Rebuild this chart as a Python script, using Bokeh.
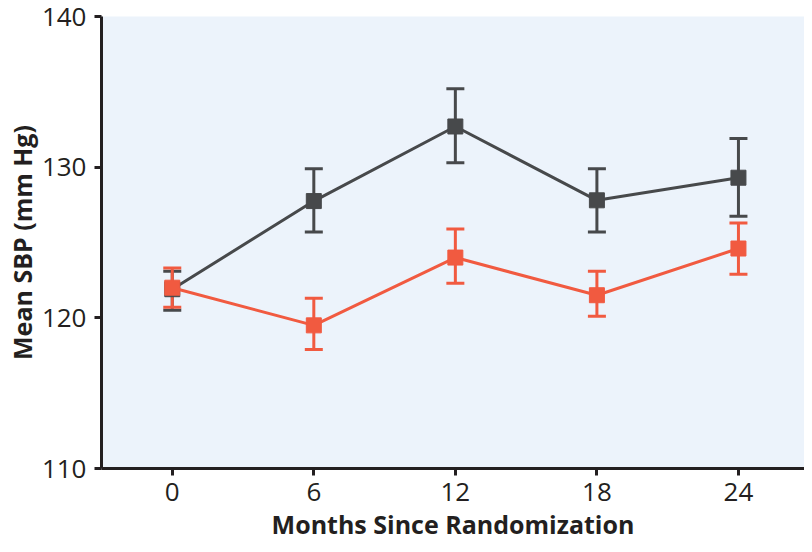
from bokeh.plotting import figure
from bokeh.models import ColumnDataSource, Whisker, TeeHead, FixedTicker, Range1d
from bokeh.embed import file_html
from bokeh.resources import INLINE

months = [0, 6, 12, 18, 24]
dark_mean = [121.9, 127.75, 132.7, 127.8, 129.3]
dark_upper = [123.1, 129.9, 135.2, 129.9, 131.9]
dark_lower = [120.5, 125.7, 130.3, 125.7, 126.75]
red_mean = [122.0, 119.5, 124.0, 121.5, 124.6]
red_upper = [123.3, 121.3, 125.9, 123.1, 126.3]
red_lower = [120.7, 117.9, 122.3, 120.1, 122.9]
y_ticks = [110, 120, 130, 140]
x_title = "Months Since Randomization"
y_title = "Mean SBP (mm Hg)"

DARK = "#47494b"
RED = "#f15a40"
TXT = "#231f20"

p = figure(width=804, height=544, output_backend="svg", toolbar_location=None,
           x_range=Range1d(-3, 26.8), y_range=Range1d(110, 140),
           min_border_left=101, min_border_right=0, min_border_top=16, min_border_bottom=76)
p.background_fill_color = "#ecf3fb"
p.border_fill_color = "white"
p.outline_line_color = None
p.grid.visible = False

for mean, up, lo, col in [(dark_mean, dark_upper, dark_lower, DARK), (red_mean, red_upper, red_lower, RED)]:
    src = ColumnDataSource(dict(x=months, y=mean, up=up, lo=lo))
    w = Whisker(source=src, base="x", upper="up", lower="lo", line_color=col, line_width=3,
                upper_head=TeeHead(size=18, line_color=col, line_width=3),
                lower_head=TeeHead(size=18, line_color=col, line_width=3))
    p.add_layout(w)
    p.line("x", "y", source=src, line_color=col, line_width=3)
    p.scatter("x", "y", source=src, marker="square", size=15, fill_color=col, line_color=col)

for ax in (p.xaxis, p.yaxis):
    ax.axis_line_color = TXT
    ax.axis_line_width = 3
    ax.major_tick_line_color = TXT
    ax.major_tick_line_width = 3
    ax.major_tick_out = 7
    ax.major_tick_in = 0
    ax.minor_tick_line_color = None
    ax.major_label_text_font = "Open Sans"
    ax.major_label_text_font_size = "26px"
    ax.major_label_text_color = TXT
    ax.axis_label_text_font = "Open Sans"
    ax.axis_label_text_font_style = "bold"
    ax.axis_label_text_font_size = "25px"
    ax.axis_label_text_color = TXT

p.xaxis.ticker = FixedTicker(ticks=months)
p.yaxis.ticker = FixedTicker(ticks=y_ticks)
p.xaxis.axis_label = x_title
p.yaxis.axis_label = y_title
p.xaxis.major_label_standoff = 7
p.xaxis.axis_label_standoff = 3
p.yaxis.major_label_standoff = 8
p.yaxis.axis_label_standoff = 0

open("out.html", "w").write(file_html(p, INLINE))
